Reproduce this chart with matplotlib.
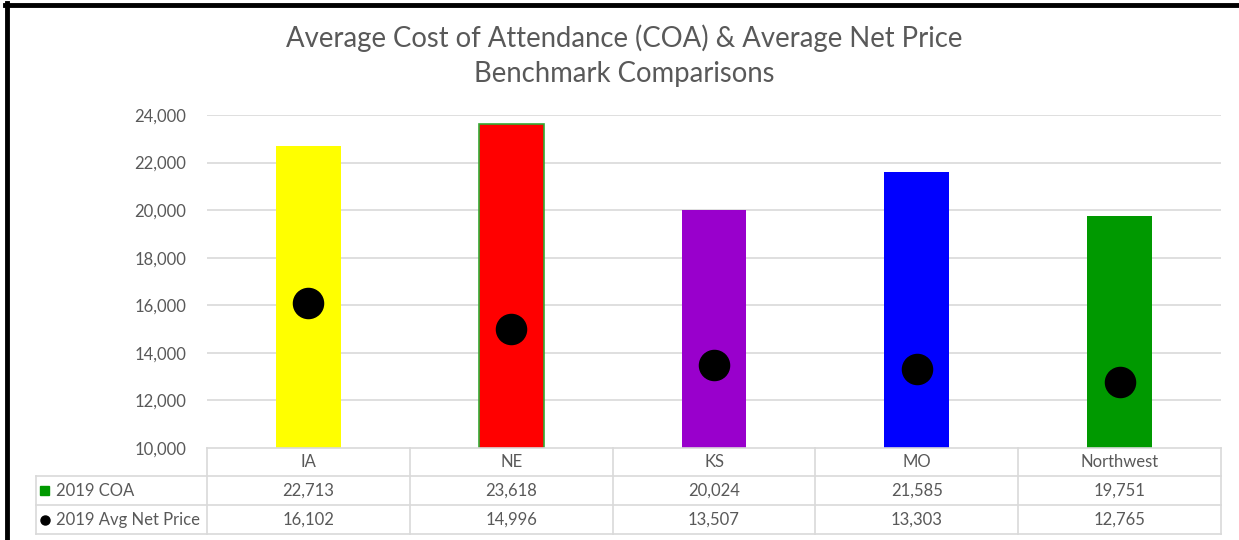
import matplotlib.pyplot as plt
from matplotlib.lines import Line2D
from matplotlib.patches import Rectangle
import matplotlib.transforms as mtransforms

plt.rcParams['font.family'] = ['Lato', 'DejaVu Sans']

categories = ["IA", "NE", "KS", "MO", "Northwest"]
coa_2019 = [22713, 23618, 20024, 21585, 19751]
net_price_2019 = [16102, 14996, 13507, 13303, 12765]
bar_colors = ["#FFFF00", "#FF0000", "#9900CC", "#0000FF", "#009900"]
row_labels = ["2019 COA", "2019 Avg Net Price"]
yticks = [10000, 12000, 14000, 16000, 18000, 20000, 22000, 24000]

TEXT = "#595959"
GRID = "#D9D9D9"
FS = 12
W, H = 1239, 540

fig = plt.figure(figsize=(W / 100, H / 100), dpi=100)
# axes placed in pixel coordinates (left, bottom, width, height)
left, right, top, bottom = 207, 1221, 115, 448
ax = fig.add_axes([left / W, 1 - bottom / H, (right - left) / W, (bottom - top) / H])

x = list(range(len(categories)))
ax.bar(x, coa_2019, width=0.32, color=bar_colors, edgecolor=["none", "#33AA33", "none", "none", "none"],
       linewidth=1.2, zorder=2)
ax.scatter(x, net_price_2019, s=470, color="black", zorder=3)

ax.set_xlim(-0.5, len(categories) - 0.5)
ax.set_ylim(10000, 24000)
ax.set_yticks(yticks)
ax.set_yticklabels([f"{v:,}" for v in yticks])
ax.set_xticks([])
ax.tick_params(axis="y", length=0, pad=15, labelsize=FS, labelcolor=TEXT)
for s in ax.spines.values():
    s.set_visible(False)
for v in yticks[1:]:
    ax.axhline(v, color=GRID, linewidth=1.2, zorder=1)

# data table under the chart
trans = mtransforms.blended_transform_factory(ax.transData, ax.transAxes)
ph = bottom - top
y_rows = [0, -28 / ph, -57 / ph, -86 / ph]
x_lab = -0.5 - (left - 36) / ((right - left) / len(categories))
x_end = len(categories) - 0.5

def hline(y, x0, x1):
    ax.add_line(Line2D([x0, x1], [y, y], transform=trans, color=GRID, lw=1.2, clip_on=False))

def vline(xv, y0, y1):
    ax.add_line(Line2D([xv, xv], [y0, y1], transform=trans, color=GRID, lw=1.2, clip_on=False))

hline(y_rows[0], -0.5, x_end)
for y in y_rows[1:]:
    hline(y, x_lab, x_end)
for i in range(len(categories) + 1):
    vline(i - 0.5, y_rows[0], y_rows[3])
vline(x_lab, y_rows[1], y_rows[3])

for i, cat in enumerate(categories):
    ax.text(i, (y_rows[0] + y_rows[1]) / 2, cat, transform=trans, ha="center", va="center",
            fontsize=FS, color=TEXT)
    ax.text(i, (y_rows[1] + y_rows[2]) / 2, f"{coa_2019[i]:,}", transform=trans, ha="center",
            va="center", fontsize=FS, color=TEXT)
    ax.text(i, (y_rows[2] + y_rows[3]) / 2, f"{net_price_2019[i]:,}", transform=trans, ha="center",
            va="center", fontsize=FS, color=TEXT)

px = (right - left) / len(categories)
x_mark = x_lab + 9 / px
x_txt = x_lab + 20 / px
ax.add_patch(Rectangle((x_mark - 4.5 / px, (y_rows[1] + y_rows[2]) / 2 - 4.5 / ph), 9 / px, 9 / ph,
                       transform=trans, color="#009900", clip_on=False))
ax.plot([x_mark], [(y_rows[2] + y_rows[3]) / 2], marker="o", markersize=6.5, color="black",
        transform=trans, clip_on=False)
ax.text(x_txt, (y_rows[1] + y_rows[2]) / 2, row_labels[0], transform=trans, ha="left", va="center",
        fontsize=FS, color=TEXT)
ax.text(x_txt, (y_rows[2] + y_rows[3]) / 2, row_labels[1], transform=trans, ha="left", va="center",
        fontsize=FS, color=TEXT)

# title
fig.text(624 / W, 1 - 38 / H, "Average Cost of Attendance (COA) & Average Net Price",
         ha="center", va="center", fontsize=19.8, color=TEXT)
fig.text(624 / W, 1 - 74 / H, "Benchmark Comparisons", ha="center", va="center",
         fontsize=19.8, color=TEXT)

# black frame on the top and left edges
fig.add_artist(Line2D([7 / W, 7 / W], [0, 1 - 3 / H], transform=fig.transFigure, color="black", lw=3.5))
fig.add_artist(Line2D([5 / W, 1], [1 - 5 / H, 1 - 5 / H], transform=fig.transFigure, color="black", lw=3.5))

fig.savefig("out.png", dpi=100)
